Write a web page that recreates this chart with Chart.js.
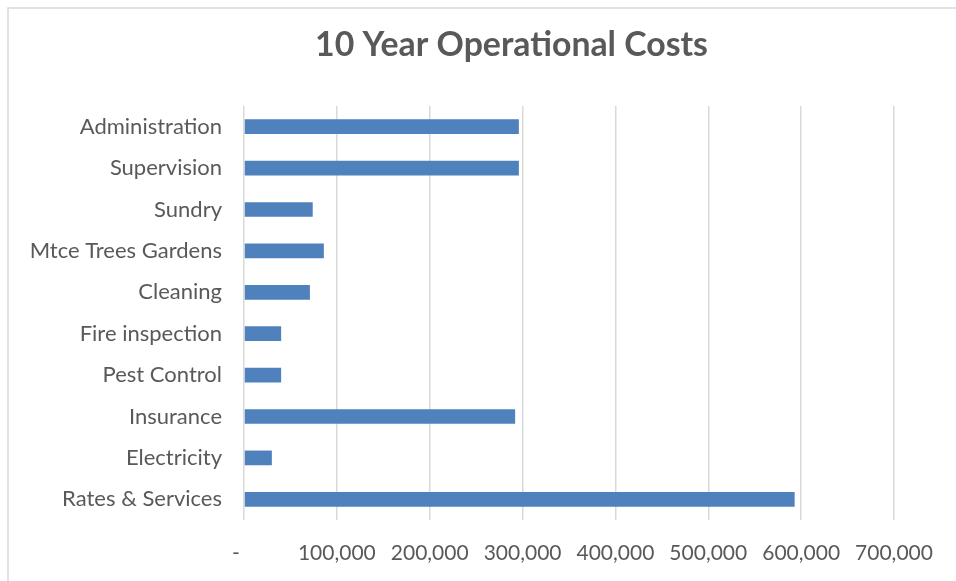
<!DOCTYPE html>
<html>
<head>
<meta charset="utf-8">
<title>10 Year Operational Costs</title>
<script src="https://cdn.jsdelivr.net/npm/chart.js@4"></script>
<style>
  html, body { margin: 0; padding: 0; background: #ffffff; }
  #wrap { width: 956px; height: 581px; position: relative; }
</style>
</head>
<body>
<div id="wrap"><canvas id="costs"></canvas></div>
<script>
// Cost categories, top to bottom
const categories = [
  'Administration',
  'Supervision',
  'Sundry',
  'Mtce Trees Gardens',
  'Cleaning',
  'Fire inspection',
  'Pest Control',
  'Insurance',
  'Electricity',
  'Rates & Services'
];

// Ten-year cost per category ($)
const costs = [296000, 296000, 74000, 86000, 71000, 40000, 40000, 292000, 30000, 593000];

// Value axis labels (accounting style, zero shown as a dash)
const xTickLabels = ['-   ', '100,000', '200,000', '300,000', '400,000', '500,000', '600,000', '700,000'];

const chartTitle = '10 Year Operational Costs';

const TEXT = '#595959';
const GRID = '#d9d9d9';
const FONT = 'Lato, "Open Sans", sans-serif';

// Frame around the chart and the centred bold title
const framePlugin = {
  id: 'frameAndTitle',
  beforeDraw(chart) {
    const ctx = chart.ctx;
    ctx.save();
    ctx.fillStyle = '#ffffff';
    ctx.fillRect(0, 0, chart.width, chart.height);
    ctx.strokeStyle = GRID;
    ctx.lineWidth = 1.5;
    ctx.strokeRect(8, 8, chart.width + 40, chart.height + 40);
    ctx.restore();
  },
  afterDraw(chart) {
    const ctx = chart.ctx;
    ctx.save();
    ctx.font = 'bold 28px ' + FONT;
    const w = ctx.measureText(chartTitle).width;
    const size = 28 * 393 / w;
    ctx.font = 'bold ' + size.toFixed(2) + 'px ' + FONT;
    ctx.fillStyle = TEXT;
    ctx.textAlign = 'center';
    ctx.textBaseline = 'alphabetic';
    ctx.fillText(chartTitle, 511.5, 56);
    ctx.restore();
  }
};

new Chart(document.getElementById('costs'), {
  type: 'bar',
  data: {
    labels: categories,
    datasets: [{
      data: costs,
      backgroundColor: '#4f81bd',
      borderWidth: 0,
      categoryPercentage: 1,
      barPercentage: 0.355
    }]
  },
  options: {
    indexAxis: 'y',
    responsive: true,
    maintainAspectRatio: false,
    animation: false,
    layout: { padding: { top: 106, left: 8, right: 62, bottom: 0 } },
    plugins: {
      legend: { display: false },
      title: { display: false },
      tooltip: { enabled: false }
    },
    scales: {
      x: {
        min: 0,
        max: 700000,
        afterFit(scale) { scale.height = 61; },
        ticks: {
          stepSize: 100000,
          color: TEXT,
          font: { family: FONT, size: 21 },
          padding: 21,
          maxRotation: 0,
          autoSkip: false,
          callback: (value, index) => xTickLabels[index]
        },
        grid: { color: GRID, lineWidth: 1.5, drawTicks: false },
        border: { display: false }
      },
      y: {
        afterFit(scale) { scale.width = 236; },
        ticks: {
          color: TEXT,
          font: { family: FONT, size: 22 },
          padding: 14,
          autoSkip: false
        },
        grid: { display: false },
        border: { display: false }
      }
    }
  },
  plugins: [framePlugin]
});
</script>
</body>
</html>
